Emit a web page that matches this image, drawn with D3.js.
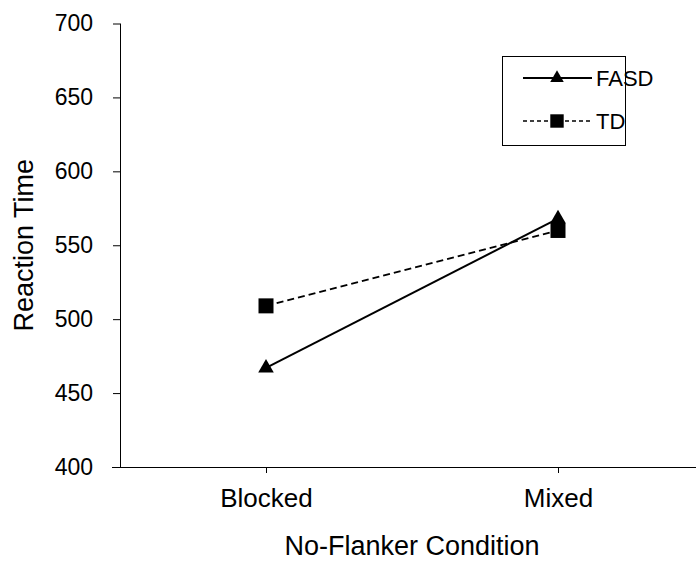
<!DOCTYPE html>
<html>
<head>
<meta charset="utf-8">
<script src="https://cdn.jsdelivr.net/npm/d3@7"></script>
<style>
  body { margin: 0; background: #fff; }
  svg { display: block; font-family: "Liberation Sans", Arial, sans-serif; }
</style>
</head>
<body>
<div class="chart"></div>
<script>
// chart data
const conditions = ['Blocked', 'Mixed']
const fasd = [467, 568]
const td = [509, 560]
const yTicks = [400, 450, 500, 550, 600, 650, 700]
const seriesNames = ['FASD', 'TD']

const width = 696
const height = 563

const svg = d3.select('.chart')
    .append('svg')
    .attr('width', width)
    .attr('height', height)

// scales
const x = d3.scalePoint()
    .domain(conditions)
    .range([120, 704])
    .padding(0.5)

const y = d3.scaleLinear()
    .domain([400, 700])
    .range([467, 23.5])

// y axis
const yAxis = svg.append('g')
    .attr('transform', 'translate(120,0)')
    .call(d3.axisLeft(y).tickValues(yTicks).tickSize(7).tickPadding(20))
yAxis.select('.domain').attr('d', `M0.5,${y(700)}V${y(400)}`).attr('stroke', '#000')
yAxis.selectAll('.tick line').attr('stroke', '#000')
yAxis.selectAll('.tick text')
    .style('font-size', '23px')
    .attr('fill', '#000')

// x axis
const xAxis = svg.append('g')
    .attr('transform', `translate(0,${y(400)})`)
    .call(d3.axisBottom(x).tickSize(6).tickPadding(16))
xAxis.select('.domain').attr('d', `M112,0.5H${width}`).attr('stroke', '#000')
xAxis.selectAll('.tick line').attr('stroke', '#000')
xAxis.selectAll('.tick text')
    .style('font-size', '26px')
    .attr('fill', '#000')

// axis titles
svg.append('text')
    .attr('x', (x('Blocked') + x('Mixed')) / 2)
    .attr('y', 555)
    .attr('text-anchor', 'middle')
    .style('font-size', '27px')
    .text('No-Flanker Condition')

svg.append('text')
    .attr('transform', `translate(33,${(y(400) + y(700)) / 2}) rotate(-90)`)
    .attr('text-anchor', 'middle')
    .style('font-size', '27px')
    .text('Reaction Time')

// lines
const line = d3.line()
    .x((d, i) => x(conditions[i]))
    .y(d => y(d))

svg.append('path')
    .datum(td)
    .attr('d', line)
    .attr('fill', 'none')
    .attr('stroke', '#000')
    .attr('stroke-width', 2)
    .attr('stroke-dasharray', '7,4')

svg.append('path')
    .datum(fasd)
    .attr('d', line)
    .attr('fill', 'none')
    .attr('stroke', '#000')
    .attr('stroke-width', 2)

// markers
const tri = d3.symbol().type(d3.symbolTriangle).size(105)
const sq = d3.symbol().type(d3.symbolSquare).size(225)

svg.selectAll('.td-pt')
    .data(td)
    .enter()
    .append('path')
    .attr('class', 'td-pt')
    .attr('d', sq)
    .attr('transform', (d, i) => `translate(${x(conditions[i])},${y(d)})`)
    .attr('fill', '#000')

svg.selectAll('.fasd-pt')
    .data(fasd)
    .enter()
    .append('path')
    .attr('class', 'fasd-pt')
    .attr('d', tri)
    .attr('transform', (d, i) => `translate(${x(conditions[i])},${y(d)})`)
    .attr('fill', '#000')

// legend
const legend = svg.append('g')

legend.append('rect')
    .attr('x', 502.5)
    .attr('y', 56.5)
    .attr('width', 123)
    .attr('height', 89)
    .attr('fill', '#fff')
    .attr('stroke', '#000')

seriesNames.forEach((name, i) => {
    const ly = 78 + i * 43
    legend.append('line')
        .attr('x1', 523)
        .attr('x2', 592)
        .attr('y1', ly)
        .attr('y2', ly)
        .attr('stroke', '#000')
        .attr('stroke-width', i === 0 ? 2 : 1.5)
        .attr('stroke-dasharray', i === 0 ? null : '4,3')
    legend.append('path')
        .attr('d', i === 0 ? d3.symbol().type(d3.symbolTriangle).size(80)() : d3.symbol().type(d3.symbolSquare).size(180)())
        .attr('transform', `translate(557,${ly})`)
        .attr('fill', '#000')
    legend.append('text')
        .attr('x', 596)
        .attr('y', ly + 8)
        .style('font-size', '22px')
        .text(name)
})
</script>
</body>
</html>
